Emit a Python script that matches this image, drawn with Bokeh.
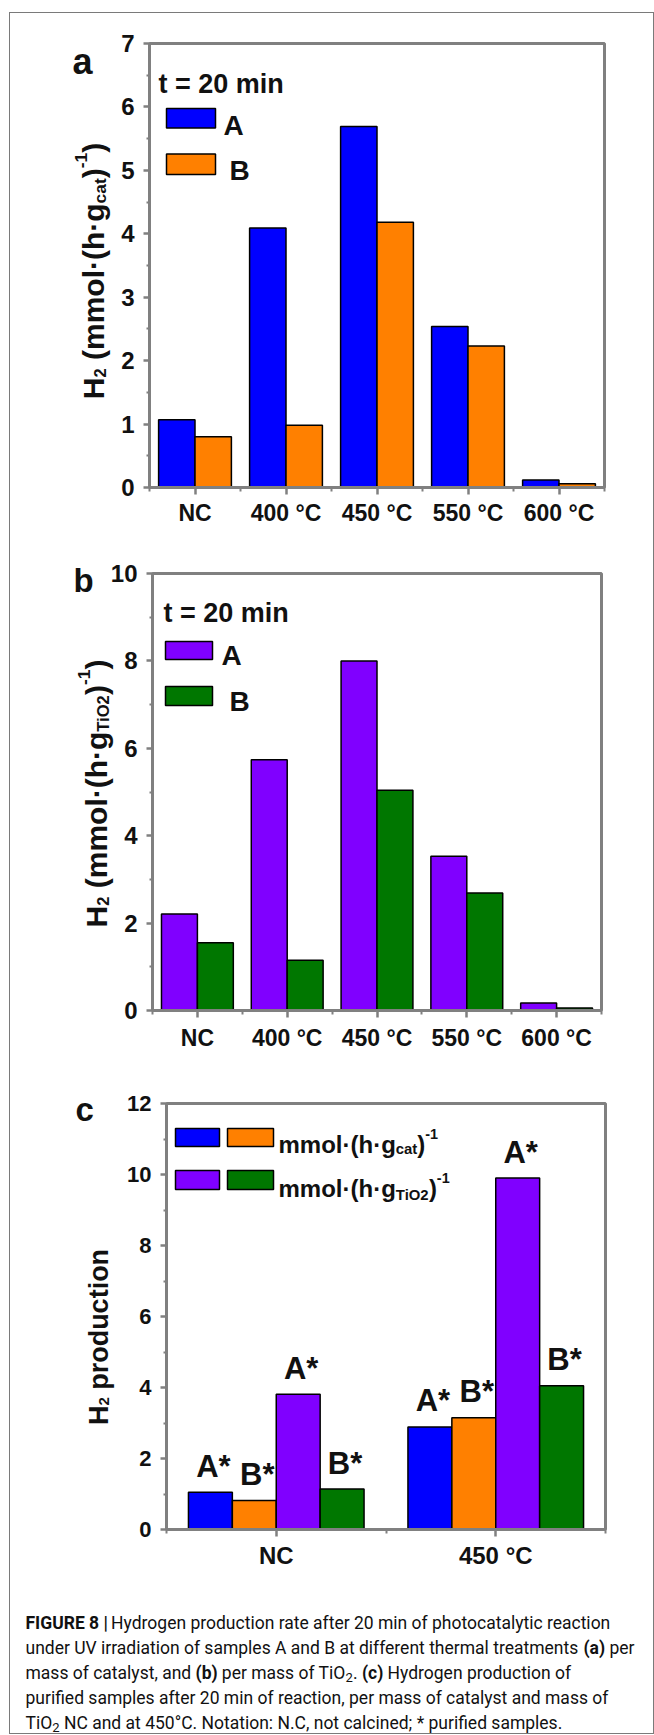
import os
import glob
import struct
import subprocess
from math import pi

import numpy as np
from bokeh.plotting import figure
from bokeh.models import ColumnDataSource, Range1d, FixedTicker, Label, BoxAnnotation, LinearAxis
from bokeh.layouts import column
from bokeh.core.properties import value
from bokeh.embed import file_html
from bokeh.resources import INLINE

# ---------------------------------------------------------------- data
categories = ["NC", "400 °C", "450 °C", "550 °C", "600 °C"]
a_A = [1.07, 4.09, 5.69, 2.54, 0.12]
a_B = [0.80, 0.98, 4.18, 2.23, 0.06]
b_A = [2.21, 5.74, 8.00, 3.53, 0.17]
b_B = [1.55, 1.15, 5.04, 2.69, 0.06]

c_categories = ["NC", "450 °C"]
c_A_cat = [1.05, 2.89]
c_B_cat = [0.82, 3.15]
c_A_tio2 = [3.81, 9.90]
c_B_tio2 = [1.14, 4.05]
c_labels = ["A*", "B*", "A*", "B*"]

a_yticks = [0, 1, 2, 3, 4, 5, 6, 7]
a_yminor = [0.5, 1.5, 2.5, 3.5, 4.5, 5.5, 6.5]
b_yticks = [0, 2, 4, 6, 8, 10]
b_yminor = [1, 3, 5, 7, 9]
c_yticks = [0, 2, 4, 6, 8, 10, 12]
c_yminor = [1, 3, 5, 7, 9, 11]

BLUE, ORANGE, PURPLE, GREEN = "#0000FF", "#FF8000", "#8000FF", "#007700"
AXIS_GRAY = "#808080"
INK = "#111111"
FONT = "Liberation Sans"
CAP_FONT = "Roboto"

# ---------------------------------------------------------------- font metrics (for rich text runs)
HELV_R = {' ': 278, '(': 333, ')': 333, '*': 389, ',': 278, '-': 333, '.': 278, ':': 278, ';': 278,
          '|': 260, '·': 278, '°': 400, '=': 584}
HELV_R.update({d: 556 for d in "0123456789"})
HELV_R.update(dict(zip("ABCDEFGHIJKLMNOPQRSTUVWXYZ",
                       [667, 667, 722, 722, 667, 611, 778, 722, 278, 500, 667, 556, 833, 722, 778, 667,
                        778, 722, 667, 611, 722, 667, 944, 667, 667, 611])))
HELV_R.update(dict(zip("abcdefghijklmnopqrstuvwxyz",
                       [556, 556, 500, 556, 556, 278, 556, 556, 222, 222, 500, 222, 833, 556, 556, 556,
                        556, 333, 500, 278, 556, 500, 722, 500, 500, 500])))
HELV_B = dict(HELV_R)
HELV_B.update({':': 333, ';': 333, '|': 280})
HELV_B.update(dict(zip("ABCDEFGHIJKLMNOPQRSTUVWXYZ",
                       [722, 722, 722, 722, 667, 611, 778, 722, 278, 556, 722, 611, 833, 722, 778, 667,
                        778, 722, 667, 611, 722, 667, 944, 667, 667, 611])))
HELV_B.update(dict(zip("abcdefghijklmnopqrstuvwxyz",
                       [556, 611, 556, 611, 556, 333, 611, 611, 278, 278, 556, 278, 889, 611, 611, 611,
                        611, 389, 556, 333, 611, 556, 778, 556, 556, 500])))


def fc_file(pattern):
    try:
        out = subprocess.run(["fc-match", "-f", "%{file}", pattern], capture_output=True,
                             text=True, timeout=10).stdout.strip()
        if out and os.path.exists(out):
            return out
    except Exception:
        pass
    return None


def find_font(fc_pattern, family_word, globs):
    path = fc_file(fc_pattern)
    if path and family_word.lower() in os.path.basename(path).lower():
        return path
    roots = ["/usr/share/fonts", "/usr/local/share/fonts",
             os.path.expanduser("~/.local/share/fonts"), os.path.expanduser("~/.fonts")]
    for pat in globs:
        for r in roots:
            hits = sorted(glob.glob(os.path.join(r, "**", pat), recursive=True))
            if hits:
                return hits[0]
    return None


class Metrics:
    def __init__(self, path, table, scale):
        self.table, self.scale = table, scale
        self.ok = False
        self.cache = {}
        if path:
            try:
                self._load(path)
                self.ok = True
            except Exception:
                self.ok = False

    def _load(self, path):
        d = open(path, "rb").read()
        base = 0
        if d[:4] == b"ttcf":
            base = struct.unpack(">I", d[12:16])[0]
        n = struct.unpack(">H", d[base + 4:base + 6])[0]
        t = {}
        for i in range(n):
            rec = base + 12 + 16 * i
            t[d[rec:rec + 4].decode("latin1")] = struct.unpack(">I", d[rec + 8:rec + 12])[0]
        self.upem = struct.unpack(">H", d[t["head"] + 18:t["head"] + 20])[0]
        nh = struct.unpack(">H", d[t["hhea"] + 34:t["hhea"] + 36])[0]
        hm = t["hmtx"]
        self.adv = list(struct.unpack(">%dH" % (2 * nh), d[hm:hm + 4 * nh])[0::2])
        cm = t["cmap"]
        nsub = struct.unpack(">H", d[cm + 2:cm + 4])[0]
        best = None
        for i in range(nsub):
            pid, eid, off = struct.unpack(">HHI", d[cm + 4 + 8 * i:cm + 12 + 8 * i])
            fmt = struct.unpack(">H", d[cm + off:cm + off + 2])[0]
            if fmt == 12:
                best = (cm + off, 12)
                break
            if fmt == 4 and best is None:
                best = (cm + off, 4)
        self.d = d
        self.sub, self.fmt = best
        if self._glyph(ord("a")) == 0:
            raise ValueError("bad cmap")

    def _glyph(self, c):
        d, s = self.d, self.sub
        if self.fmt == 12:
            ng = struct.unpack(">I", d[s + 12:s + 16])[0]
            for i in range(ng):
                sc, ec, sg = struct.unpack(">III", d[s + 16 + 12 * i:s + 28 + 12 * i])
                if sc <= c <= ec:
                    return sg + c - sc
            return 0
        segx2 = struct.unpack(">H", d[s + 6:s + 8])[0]
        ends = s + 14
        starts = ends + segx2 + 2
        deltas = starts + segx2
        roffs = deltas + segx2
        for i in range(segx2 // 2):
            e = struct.unpack(">H", d[ends + 2 * i:ends + 2 * i + 2])[0]
            if c <= e:
                st = struct.unpack(">H", d[starts + 2 * i:starts + 2 * i + 2])[0]
                if c < st:
                    return 0
                dl = struct.unpack(">h", d[deltas + 2 * i:deltas + 2 * i + 2])[0]
                ro = struct.unpack(">H", d[roffs + 2 * i:roffs + 2 * i + 2])[0]
                if ro == 0:
                    return (c + dl) & 0xFFFF
                gp = roffs + 2 * i + ro + 2 * (c - st)
                g = struct.unpack(">H", d[gp:gp + 2])[0]
                return (g + dl) & 0xFFFF if g else 0
        return 0

    def width(self, text, size):
        w = 0.0
        for ch in text:
            if ch not in self.cache:
                em = None
                if self.ok:
                    try:
                        g = self._glyph(ord(ch))
                        if g:
                            em = (self.adv[g] if g < len(self.adv) else self.adv[-1]) / self.upem
                    except Exception:
                        em = None
                if em is None:
                    em = self.table.get(ch, 556) / 1000.0 * self.scale
                self.cache[ch] = em
            w += self.cache[ch]
        return w * size


LIB_B = Metrics(find_font("Liberation Sans:bold", "liberation",
                          ["LiberationSans-Bold.ttf", "LiberationSans-Bold*"]), HELV_B, 1.0)
ROB_R = Metrics(find_font("Roboto:regular", "roboto", ["Roboto-Regular.ttf", "Roboto-Regular*"]),
                HELV_R, 0.97)
ROB_B = Metrics(find_font("Roboto:bold", "roboto", ["Roboto-Bold.ttf", "Roboto-Bold*"]),
                HELV_B, 0.97)


def runs_width(runs, m_norm, m_bold):
    return sum((m_bold if b else m_norm).width(t, s) for t, s, _, b in runs)


def rich(p, FL, FB, x_page, y_page, runs, font, m_norm, m_bold, rotated=False):
    """Text runs (text, size, baseline shift, bold) starting at page point (x_page, y_page) on
    the baseline; FL/FB are the page left/bottom of the figure's frame.  Leading/trailing
    spaces only move the pen (SVG drops them)."""
    adv = 0.0
    for text, size, shift, bold in runs:
        m = m_bold if bold else m_norm
        stripped = text.strip(" ")
        lead = m.width(text[:len(text) - len(text.lstrip(" "))], size)
        if stripped:
            pos = adv + lead
            if rotated:
                sx = (x_page - shift) - FL
                sy = (FB - y_page) + pos
            else:
                sx = (x_page - FL) + pos
                sy = (FB - y_page) + shift
            p.add_layout(Label(x=sx, y=sy, x_units="screen", y_units="screen", text=stripped,
                               text_font=font, text_font_size=f"{size:.1f}px",
                               text_font_style="bold" if bold else "normal", text_color=INK,
                               text_align="left", text_baseline="alphabetic",
                               angle=pi / 2 if rotated else 0))
        adv += m.width(text, size)


def swatch(p, FL, FB, x0, x1, y0, y1, color):
    p.add_layout(BoxAnnotation(left=x0 - FL, right=x1 - FL, top=FB - y0, bottom=FB - y1,
                               left_units="screen", right_units="screen",
                               top_units="screen", bottom_units="screen",
                               fill_color=color, fill_alpha=1.0,
                               line_color="black", line_alpha=1.0, line_width=1.5))


FIG_W = 643
PAGE_X0 = 10     # page x of the figures' left edge (after margin + 1px border)
LB = 50          # left strip kept for the y axis
EXT = 12         # frame runs this far below the zero line (room for the "0" label)
BORDER = "1px solid #7a7a7a"


def style_axis(ax):
    ax.axis_line_color = AXIS_GRAY
    ax.axis_line_width = 3
    ax.major_tick_line_color = AXIS_GRAY
    ax.major_tick_line_width = 2.5
    ax.minor_tick_line_color = AXIS_GRAY
    ax.minor_tick_line_width = 2
    ax.major_tick_in = 0
    ax.minor_tick_in = 0
    ax.major_label_text_font = FONT
    ax.major_label_text_font_style = "bold"
    ax.major_label_text_color = INK


def make_panel(top_page, height, area, labels, y_end, yticks, yminor, ysize, xsize, xstandoff):
    """area = page box (left, top, right, bottom) of the plotting rectangle."""
    n = len(labels)
    centers = [i + 0.5 for i in range(n)]
    ax0, ay0, ax1, ay1 = area
    FL, FR = PAGE_X0 + LB, PAGE_X0 + FIG_W
    FT, FB = top_page, ay1 + EXT
    ux = (ax1 - ax0) / n
    uy = (ay1 - ay0) / y_end
    p = figure(width=FIG_W, height=height, output_backend="svg", toolbar_location=None,
               x_range=Range1d((FL - ax0) / ux, (FR - ax0) / ux),
               y_range=Range1d((ay1 - FB) / uy, (ay1 - FT) / uy),
               min_border_left=LB, min_border_right=0, min_border_top=0,
               min_border_bottom=top_page + height - FB)
    p.xgrid.visible = False
    p.ygrid.visible = False
    p.background_fill_color = "white"
    p.border_fill_color = "white"
    p.outline_line_color = None

    # category labels (axis at the frame bottom, labels only)
    xl = p.xaxis[0]
    style_axis(xl)
    xl.ticker = FixedTicker(ticks=centers, minor_ticks=[])
    xl.major_label_overrides = {c: lab for c, lab in zip(centers, labels)}
    xl.axis_line_color = None
    xl.major_tick_line_color = None
    xl.minor_tick_line_color = None
    xl.major_tick_out = 0
    xl.minor_tick_out = 0
    xl.major_label_text_font_size = f"{xsize}px"
    xl.major_label_standoff = xstandoff

    # axis line and ticks on the zero line (no labels)
    xt = LinearAxis(fixed_location=0, bounds=(0, n),
                    ticker=FixedTicker(ticks=centers, minor_ticks=list(range(n + 1))),
                    major_label_overrides={c: "" for c in centers})
    style_axis(xt)
    xt.major_tick_out = 7
    xt.minor_tick_out = 4
    xt.major_label_text_font_size = "1px"
    xt.major_label_text_color = None
    xt.major_label_standoff = 0
    p.add_layout(xt, "below")

    yax = p.yaxis[0]
    style_axis(yax)
    yax.fixed_location = 0
    yax.bounds = (0, y_end)
    yax.ticker = FixedTicker(ticks=yticks, minor_ticks=yminor)
    yax.major_tick_out = 6
    yax.minor_tick_out = 3
    yax.major_label_text_font_size = f"{ysize}px"
    yax.major_label_standoff = 9
    # remaining two sides of the plotting box
    p.add_layout(BoxAnnotation(left=0, right=n, bottom=0, top=y_end, fill_color=None,
                               line_color=AXIS_GRAY, line_width=3, line_alpha=1.0))
    return p, FL, FB


# ---------------------------------------------------------------- panel a
fa, FLa, FBa = make_panel(13, 527, (149, 43, 604, 487), categories, 7, a_yticks, a_yminor, 24, 23, 0)
xa = np.arange(len(categories)) + 0.5
src_a = ColumnDataSource(dict(xA=xa - 0.2, xB=xa + 0.2, A=a_A, B=a_B))
fa.vbar(x="xA", top="A", width=0.4, source=src_a, fill_color=BLUE, line_color="black", line_width=1.5)
fa.vbar(x="xB", top="B", width=0.4, source=src_a, fill_color=ORANGE, line_color="black", line_width=1.5)

rich(fa, FLa, FBa, 158, 83, [("t = 20 min", 27, 0, True)], FONT, LIB_B, LIB_B)
swatch(fa, FLa, FBa, 166, 215, 108, 127.5, BLUE)
swatch(fa, FLa, FBa, 166, 215, 153.5, 174, ORANGE)
rich(fa, FLa, FBa, 223, 125, [("A", 28, 0, True)], FONT, LIB_B, LIB_B)
rich(fa, FLa, FBa, 229, 170, [("B", 28, 0, True)], FONT, LIB_B, LIB_B)
rich(fa, FLa, FBa, 72, 61, [("a", 36, 0, True)], FONT, LIB_B, LIB_B)

S = 30
title_a = [("H", S, 0, True), ("2", 0.55 * S, -0.2 * S, True), (" (mmol·(h·g", S, 0, True),
           ("cat", 0.58 * S, -0.2 * S, True), (")", S, 0, True), ("-1", 0.58 * S, 0.42 * S, True),
           (")", S, 0, True)]
Wa = runs_width(title_a, LIB_B, LIB_B)
rich(fa, FLa, FBa, 93, 270.5 + Wa / 2, title_a, FONT, LIB_B, LIB_B, rotated=True)

# ---------------------------------------------------------------- panel b
fb, FLb, FBb = make_panel(540, 530, (152, 573, 601, 1010), categories, 10, b_yticks, b_yminor, 24, 23, 2)
src_b = ColumnDataSource(dict(xA=xa - 0.2, xB=xa + 0.2, A=b_A, B=b_B))
fb.vbar(x="xA", top="A", width=0.4, source=src_b, fill_color=PURPLE, line_color="black", line_width=1.5)
fb.vbar(x="xB", top="B", width=0.4, source=src_b, fill_color=GREEN, line_color="black", line_width=1.5)

rich(fb, FLb, FBb, 163, 612.5, [("t = 20 min", 27, 0, True)], FONT, LIB_B, LIB_B)
swatch(fb, FLb, FBb, 165, 212, 641, 659, PURPLE)
swatch(fb, FLb, FBb, 165, 212, 686, 705, GREEN)
rich(fb, FLb, FBb, 221, 655, [("A", 28, 0, True)], FONT, LIB_B, LIB_B)
rich(fb, FLb, FBb, 229, 700.5, [("B", 28, 0, True)], FONT, LIB_B, LIB_B)
rich(fb, FLb, FBb, 73, 579.5, [("b", 33, 0, True)], FONT, LIB_B, LIB_B)

title_b = [("H", S, 0, True), ("2", 0.55 * S, -0.2 * S, True), (" (mmol·(h·g", S, 0, True),
           ("TiO2", 0.55 * S, -0.2 * S, True), (")", S, 0, True), ("-1", 0.58 * S, 0.42 * S, True),
           (")", S, 0, True)]
Wb = runs_width(title_b, LIB_B, LIB_B)
rich(fb, FLb, FBb, 96, 793 + Wb / 2, title_b, FONT, LIB_B, LIB_B, rotated=True)

# ---------------------------------------------------------------- panel c
fc, FLc, FBc = make_panel(1070, 525, (166, 1103, 605, 1529), c_categories, 12, c_yticks, c_yminor, 22, 24, 0)
xc = np.arange(len(c_categories)) + 0.5
series_c = [(c_A_cat, BLUE), (c_B_cat, ORANGE), (c_A_tio2, PURPLE), (c_B_tio2, GREEN)]
offsets = [-0.3, -0.1, 0.1, 0.3]
for (vals, col), off, lab in zip(series_c, offsets, c_labels):
    src = ColumnDataSource(dict(x=xc + off, top=vals, t=[lab] * len(vals)))
    fc.vbar(x="x", top="top", width=0.2, source=src, fill_color=col, line_color="black", line_width=1.5)
    fc.text(x="x", y="top", text="t", source=src, text_font=value(FONT), text_font_style="bold",
            text_font_size="31px", text_align="center", text_baseline="middle",
            x_offset=3, y_offset=-26, text_color=INK)

swatch(fc, FLc, FBc, 175, 219, 1128, 1146, BLUE)
swatch(fc, FLc, FBc, 227, 273, 1128, 1146, ORANGE)
swatch(fc, FLc, FBc, 175, 219, 1170, 1189, PURPLE)
swatch(fc, FLc, FBc, 227, 273, 1170, 1189, GREEN)
L = 24
rich(fc, FLc, FBc, 278, 1144, [("mmol·(h·g", L, 0, True), ("cat", 0.62 * L, -0.2 * L, True),
                               (")", L, 0, True), ("-1", 0.6 * L, 0.45 * L, True)], FONT, LIB_B, LIB_B)
rich(fc, FLc, FBc, 278, 1188, [("mmol·(h·g", L, 0, True), ("TiO2", 0.62 * L, -0.25 * L, True),
                               (")", L, 0, True), ("-1", 0.6 * L, 0.45 * L, True)], FONT, LIB_B, LIB_B)
rich(fc, FLc, FBc, 75, 1109, [("c", 33, 0, True)], FONT, LIB_B, LIB_B)

Sc = 27
title_c = [("H", Sc, 0, True), ("2", 0.55 * Sc, -0.2 * Sc, True), (" production", Sc, 0, True)]
Wc = runs_width(title_c, LIB_B, LIB_B)
rich(fc, FLc, FBc, 98.5, 1336.5 + Wc / 2, title_c, FONT, LIB_B, LIB_B, rotated=True)

# ---------------------------------------------------------------- caption
CAP_TOP, CAP_H = 1595, 138
fcap = figure(width=FIG_W, height=CAP_H, output_backend="svg", toolbar_location=None,
              x_axis_type=None, y_axis_type=None, x_range=Range1d(0, 1), y_range=Range1d(0, 1),
              min_border_left=0, min_border_right=0, min_border_top=0, min_border_bottom=0)
fcap.outline_line_color = None
fcap.xgrid.visible = False
fcap.ygrid.visible = False
fcap.background_fill_color = "white"
fcap.border_fill_color = "white"
FLk, FBk = PAGE_X0, CAP_TOP + CAP_H

line2_a = "under UV irradiation of samples A and B at different thermal treatments "
w1 = ROB_R.width(line2_a, 1) + ROB_B.width("(a)", 1) + ROB_R.width(" per", 1)
CS = max(15.5, min(17.5, 622.0 / w1))
SUB = (0.75 * CS, -0.25 * CS)
caption = [
    [("FIGURE 8 |", CS, 0, True),
     (" Hydrogen production rate after 20 min of photocatalytic reaction", CS, 0, False)],
    [(line2_a, CS, 0, False), ("(a)", CS, 0, True), (" per", CS, 0, False)],
    [("mass of catalyst, and ", CS, 0, False), ("(b)", CS, 0, True), (" per mass of TiO", CS, 0, False),
     ("2", SUB[0], SUB[1], False), (". ", CS, 0, False), ("(c)", CS, 0, True),
     (" Hydrogen production of", CS, 0, False)],
    [("purified samples after 20 min of reaction, per mass of catalyst and mass of", CS, 0, False)],
    [("TiO", CS, 0, False), ("2", SUB[0], SUB[1], False),
     (" NC and at 450°C. Notation: N.C, not calcined; * purified samples.", CS, 0, False)],
]
for k, runs in enumerate(caption):
    rich(fcap, FLk, FBk, 25, 1622.3 + 25 * k, runs, CAP_FONT, ROB_R, ROB_B)

SIDE = {"border-left": BORDER, "border-right": BORDER, "margin-left": "9px"}
roots = [
    column(fa, styles=dict(SIDE, **{"border-top": BORDER, "margin-top": "12px"})),
    column(fb, styles=dict(SIDE)),
    column(fc, styles=dict(SIDE)),
    column(fcap, styles=dict(SIDE, **{"border-bottom": BORDER})),
]
open("out.html", "w").write(file_html(roots, INLINE))
